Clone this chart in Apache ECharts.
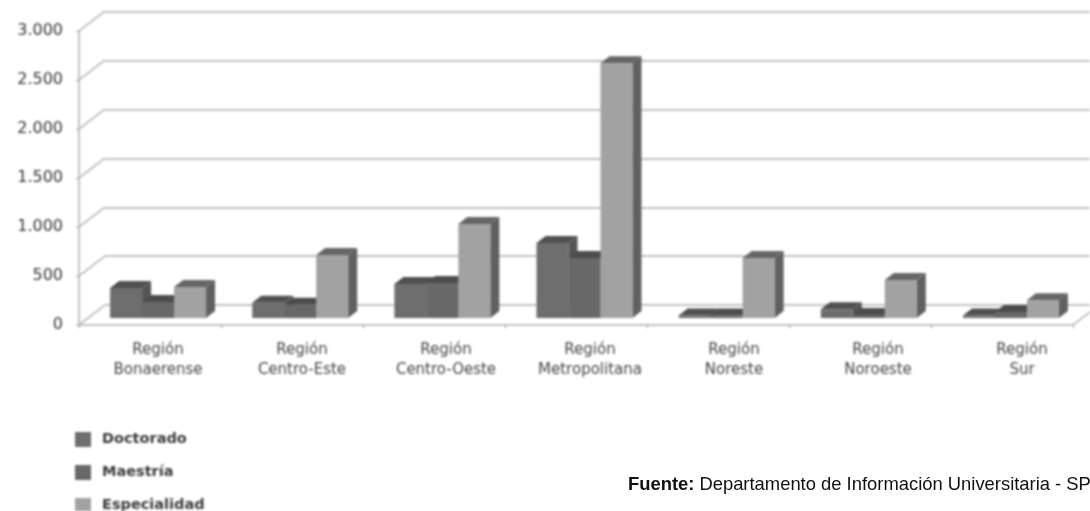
<!DOCTYPE html>
<html><head><meta charset="utf-8">
<style>html,body{margin:0;padding:0;background:#fff;overflow:hidden}
#c{position:absolute;left:0;top:0;width:1090px;height:511px;filter:blur(0.9px)}
#src{position:absolute;left:0;top:0;width:1090px;height:511px}</style>
<script src="https://cdn.jsdelivr.net/npm/echarts@6/dist/echarts.min.js"></script>
</head><body><div id="c"></div><div id="src"></div>
<script>
const categories = ['Región\nBonaerense','Región\nCentro-Este','Región\nCentro-Oeste','Región\nMetropolitana','Región\nNoreste','Región\nNoroeste','Región\nSur'];
const doctorado = [306,155,347,765,25,90,25];
const maestria = [163,135,357,612,25,30,60];
const especialidad = [316,643,960,2600,612,388,180];
const tickValues = [0,500,1000,1500,2000,2500,3000];
const tickLabels = ['0','500','1.000','1.500','2.000','2.500','3.000'];

const chart = echarts.init(document.getElementById('c'), null, {renderer:'canvas'});
const gridColor = '#c2c2c2';
const font = '"DejaVu Sans", sans-serif';

function box(color, top, side, k) {
  return function (params, api) {
    const base = api.coord([api.value(0), 0]);
    const head = api.coord([api.value(0), api.value(1)]);
    const w = api.size([1, 0])[0] * 0.225;
    const x0 = base[0] + (k - 1.5) * w, x1 = x0 + w;
    const y0 = base[1], y1 = head[1];
    const dx = 9, dy = -7;
    return {type:'group', children:[
      {type:'polygon', shape:{points:[[x1,y1],[x1+dx,y1+dy],[x1+dx,y0+dy],[x1,y0]]}, style:{fill:side}},
      {type:'polygon', shape:{points:[[x0,y1],[x0+dx,y1+dy],[x1+dx,y1+dy],[x1,y1]]}, style:{fill:top}},
      {type:'rect', shape:{x:x0,y:y1,width:w,height:y0-y1}, style:{fill:color}}
    ]};
  };
}
function barSeries(name, values, color, top, side, k) {
  return {type:'custom', name, xAxisIndex:2, yAxisIndex:2, z:10+k, clip:false,
    itemStyle:{color}, data: values.map((v,i)=>[i,v]), renderItem: box(color, top, side, k)};
}
const slantData = tickValues.map(v=>[0,v]).concat([[7,0]]);

chart.setOption({
  animation:false,
  backgroundColor:'#fff',
  legend:{left:75, top:432, height:90, padding:0, orient:'vertical', itemWidth:16, itemHeight:15, itemGap:18, icon:'rect',
    data:['Doctorado','Maestría','Especialidad'],
    textStyle:{fontFamily:font,fontWeight:'bold',fontSize:14.5,color:'#3a3a3a',padding:[0,0,0,6]}},
  grid:[
    {left:105, width:992, top:12, height:293, outerBoundsMode:'none'},
    {left:79, width:994, top:31, height:294, outerBoundsMode:'none'},
    {left:87, width:995, top:24, height:294, outerBoundsMode:'none'},
    {left:86, width:1008, top:31, height:294, outerBoundsMode:'none'}
  ],
  xAxis:[
    {gridIndex:0,type:'value',min:0,max:7,show:false},
    {gridIndex:1,type:'value',min:0,max:7,interval:1,
      axisLine:{show:true,lineStyle:{color:gridColor,width:2}},
      axisTick:{show:true,length:3,lineStyle:{color:'#999'}},axisLabel:{show:false},splitLine:{show:false}},
    {gridIndex:2,type:'category',data:categories,show:false},
    {gridIndex:3,type:'category',data:categories,
      axisLine:{show:false},axisTick:{show:false},
      axisLabel:{margin:15,interval:0,fontFamily:font,fontSize:15,lineHeight:20,color:'#444'}}
  ],
  yAxis:[0,1,2,3].map(i=>{
    const base={gridIndex:i,type:'value',min:0,max:3000,interval:500};
    if(i===0) return Object.assign(base,{axisLine:{show:false},axisTick:{show:false},axisLabel:{show:false},
      splitLine:{show:true,lineStyle:{color:gridColor,width:2}}});
    if(i===1) return Object.assign(base,{axisLine:{show:true,lineStyle:{color:gridColor,width:2}},
      axisTick:{show:true,length:3,lineStyle:{color:'#999'}},splitLine:{show:false},
      axisLabel:{margin:16,fontFamily:font,fontSize:16,color:'#333',padding:[0,0,14,0],
        formatter:v=>tickLabels[tickValues.indexOf(v)]}});
    return Object.assign(base,{show:false});
  }),
  series:[
    {type:'custom',xAxisIndex:1,yAxisIndex:1,silent:true,clip:false,z:1,data:slantData,
      renderItem:(p,api)=>{const c=api.coord([api.value(0),api.value(1)]);
        return {type:'line',shape:{x1:c[0],y1:c[1],x2:c[0]+26,y2:c[1]-20},style:{stroke:gridColor,lineWidth:2}};}},
    barSeries('Doctorado',doctorado,'#6e6e6e','#505050','#555555',0),
    barSeries('Maestría',maestria,'#686868','#4c4c4c','#505050',1),
    barSeries('Especialidad',especialidad,'#a2a2a2','#666666','#606060',2)
  ]
});

const srcChart = echarts.init(document.getElementById('src'), null, {renderer:'canvas'});
srcChart.setOption({
  animation:false,
  title:{left:623, top:471, text:'{b|Fuente:} {n|Departamento de Información Universitaria - SPU}',
    textStyle:{fontWeight:'normal',rich:{b:{fontFamily:'"Liberation Sans"',fontWeight:'bold',fontSize:18.4,color:'#111'},
                     n:{fontFamily:'"Liberation Sans"',fontWeight:'normal',fontSize:18.4,color:'#111'}}}}
});
</script></body></html>
